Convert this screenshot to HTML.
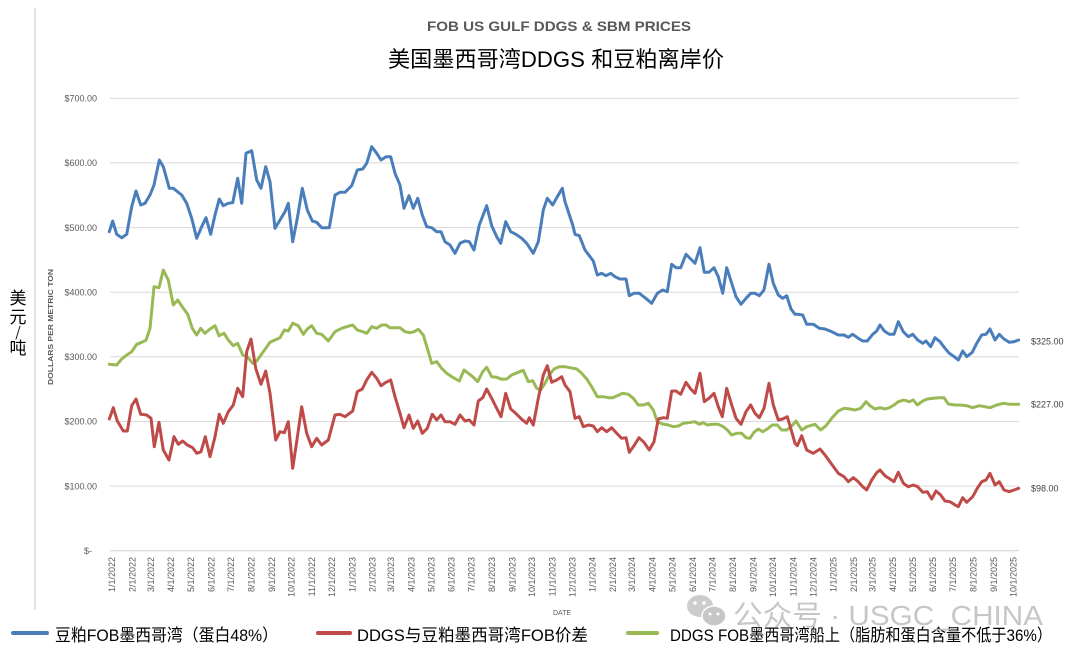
<!DOCTYPE html>
<html>
<head>
<meta charset="utf-8">
<style>
  html,body{margin:0;padding:0;background:#ffffff;}
  body{width:1080px;height:658px;overflow:hidden;}
  svg{display:block;}
  .lat{font-family:"Liberation Sans","Noto Sans CJK SC",sans-serif;}
</style>
</head>
<body>
<svg width="1080" height="658" viewBox="0 0 1080 658" xmlns="http://www.w3.org/2000/svg">
  <rect x="0" y="0" width="1080" height="658" fill="#ffffff"/>
  <!-- left border line -->
  <line x1="35" y1="8" x2="35" y2="610" stroke="#d9d9d9" stroke-width="1.5"/>

  <!-- titles -->
  <text class="lat" x="427" y="31" font-size="14" font-weight="bold" fill="#595959" textLength="264" lengthAdjust="spacingAndGlyphs">FOB US GULF DDGS &amp; SBM PRICES</text>
  <text class="lat" x="388" y="67" font-size="22" fill="#000000" textLength="336" lengthAdjust="spacingAndGlyphs">美国墨西哥湾DDGS 和豆粕离岸价</text>

  <!-- gridlines -->
  <g stroke="#d9d9d9" stroke-width="1">
    <line x1="110" y1="98.3" x2="1019" y2="98.3"/>
    <line x1="110" y1="162.9" x2="1019" y2="162.9"/>
    <line x1="110" y1="227.6" x2="1019" y2="227.6"/>
    <line x1="110" y1="292.2" x2="1019" y2="292.2"/>
    <line x1="110" y1="356.8" x2="1019" y2="356.8"/>
    <line x1="110" y1="421.5" x2="1019" y2="421.5"/>
    <line x1="110" y1="486.1" x2="1019" y2="486.1"/>
    <line x1="110" y1="550.7" x2="1019" y2="550.7" stroke="#d0d0d0"/>
  </g>

  <!-- y labels -->
  <g class="lat" font-size="9" fill="#595959" text-anchor="end">
    <text x="97" y="101.5">$700.00</text>
    <text x="97" y="166.1">$600.00</text>
    <text x="97" y="230.8">$500.00</text>
    <text x="97" y="295.4">$400.00</text>
    <text x="97" y="360">$300.00</text>
    <text x="97" y="424.7">$200.00</text>
    <text x="97" y="489.3">$100.00</text>
    <text x="92" y="553.9">$-</text>
  </g>

  <!-- y axis titles -->
  <text class="lat" transform="translate(53,327) rotate(-90)" font-size="7" font-weight="bold" fill="#595959" text-anchor="middle" textLength="116" lengthAdjust="spacingAndGlyphs">DOLLARS PER METRIC TON</text>
  <g font-family="'Noto Sans CJK SC','Liberation Sans',sans-serif" font-size="17" fill="#000" text-anchor="middle">
    <text x="18" y="304">美</text>
    <text x="18" y="323">元</text>
    <text x="18" y="337" font-size="14">/</text>
    <text x="18" y="354">吨</text>
  </g>

  <!-- x labels -->
  <g class="lat" font-size="9" fill="#595959" text-anchor="end">
    <text transform="translate(114.9,557) rotate(-90)">1/1/2022</text>
    <text transform="translate(135.3,557) rotate(-90)">2/1/2022</text>
    <text transform="translate(153.8,557) rotate(-90)">3/1/2022</text>
    <text transform="translate(174.2,557) rotate(-90)">4/1/2022</text>
    <text transform="translate(193.9,557) rotate(-90)">5/1/2022</text>
    <text transform="translate(214.4,557) rotate(-90)">6/1/2022</text>
    <text transform="translate(234.1,557) rotate(-90)">7/1/2022</text>
    <text transform="translate(254.5,557) rotate(-90)">8/1/2022</text>
    <text transform="translate(274.9,557) rotate(-90)">9/1/2022</text>
    <text transform="translate(294.7,557) rotate(-90)">10/1/2022</text>
    <text transform="translate(315.1,557) rotate(-90)">11/1/2022</text>
    <text transform="translate(334.9,557) rotate(-90)">12/1/2022</text>
    <text transform="translate(355.3,557) rotate(-90)">1/1/2023</text>
    <text transform="translate(375.7,557) rotate(-90)">2/1/2023</text>
    <text transform="translate(394.2,557) rotate(-90)">3/1/2023</text>
    <text transform="translate(414.6,557) rotate(-90)">4/1/2023</text>
    <text transform="translate(434.3,557) rotate(-90)">5/1/2023</text>
    <text transform="translate(454.7,557) rotate(-90)">6/1/2023</text>
    <text transform="translate(474.5,557) rotate(-90)">7/1/2023</text>
    <text transform="translate(494.9,557) rotate(-90)">8/1/2023</text>
    <text transform="translate(515.3,557) rotate(-90)">9/1/2023</text>
    <text transform="translate(535.1,557) rotate(-90)">10/1/2023</text>
    <text transform="translate(555.5,557) rotate(-90)">11/1/2023</text>
    <text transform="translate(575.3,557) rotate(-90)">12/1/2023</text>
    <text transform="translate(595.7,557) rotate(-90)">1/1/2024</text>
    <text transform="translate(616.1,557) rotate(-90)">2/1/2024</text>
    <text transform="translate(635.2,557) rotate(-90)">3/1/2024</text>
    <text transform="translate(655.6,557) rotate(-90)">4/1/2024</text>
    <text transform="translate(675.4,557) rotate(-90)">5/1/2024</text>
    <text transform="translate(695.8,557) rotate(-90)">6/1/2024</text>
    <text transform="translate(715.5,557) rotate(-90)">7/1/2024</text>
    <text transform="translate(736,557) rotate(-90)">8/1/2024</text>
    <text transform="translate(756.4,557) rotate(-90)">9/1/2024</text>
    <text transform="translate(776.1,557) rotate(-90)">10/1/2024</text>
    <text transform="translate(796.5,557) rotate(-90)">11/1/2024</text>
    <text transform="translate(816.3,557) rotate(-90)">12/1/2024</text>
    <text transform="translate(836.7,557) rotate(-90)">1/1/2025</text>
    <text transform="translate(857.1,557) rotate(-90)">2/1/2025</text>
    <text transform="translate(875.6,557) rotate(-90)">3/1/2025</text>
    <text transform="translate(896,557) rotate(-90)">4/1/2025</text>
    <text transform="translate(915.8,557) rotate(-90)">5/1/2025</text>
    <text transform="translate(936.2,557) rotate(-90)">6/1/2025</text>
    <text transform="translate(955.9,557) rotate(-90)">7/1/2025</text>
    <text transform="translate(976.3,557) rotate(-90)">8/1/2025</text>
    <text transform="translate(996.8,557) rotate(-90)">9/1/2025</text>
    <text transform="translate(1016.5,557) rotate(-90)">10/1/2025</text>
  </g>
  <text class="lat" x="553" y="615" font-size="7" fill="#595959">DATE</text>

  <!-- series -->
  <g fill="none" stroke-width="3" stroke-linejoin="round" stroke-linecap="round">
    <polyline stroke="#4A7EBB" points="109.3,231.7 112.7,221 116.7,234.3 121.7,237.7 126.7,234.3 131.7,206.7 136,191 140.7,205 145,203.3 150,195 154,185 159.3,160 163.3,166.7 169.3,188.3 173.3,188.3 181.7,195 186.7,203.3 191.7,218.3 196.7,238.3 201.7,226.7 206,217.7 210.7,234.3 215,215 219.3,199 223.3,205.7 228.3,203.3 232.7,202.7 237.7,178.3 241.7,203.3 246,153.3 251.7,150.7 256.7,180 261,188.3 265.7,166.7 270,181.7 275,228.3 280,220 285,211.7 288.3,203.3 292.7,241.7 297.3,218.3 302.3,188.3 307.3,210 312.3,221 316.7,222.3 321.7,227.7 329.3,227.7 335,195 340,192.3 345,192.3 351.7,185.7 357.3,170 362.7,169 366.7,163.3 371.7,146.7 376.7,153.3 381,160 386,156.7 390.7,156.7 395,173.3 400,185 404,208.3 409,195.7 413.3,208.3 417.7,198.3 422.3,215 426.7,226.7 431.7,227.7 436.7,231.7 441,231.7 445,241.7 450,245 455,253.3 460,243.3 465,241 469.3,241.7 474,250 479.3,225 486.7,205.7 491.7,225.7 496.7,236.7 500.7,243.3 505.7,221.7 510.7,231.7 516,234.3 521.7,238.3 526.7,243.3 533.3,253.3 538.3,241.7 543.3,210 547.3,198.3 552.7,205 557.3,196.7 562.3,188.3 565,201.7 572.7,225 575,234.3 579.3,235.7 585,250 589.3,255.7 593.3,261 597.3,275 601.7,273.3 606,275.7 610.7,273.3 615,276.7 620,279 626,279 629.3,295.7 634,293.3 639.3,293.3 645,297.7 651.7,303.3 657.3,293.3 662.7,290 667.3,291.7 671.7,264.3 676,267.7 680.7,267.7 686,254.3 690.7,259 695,263.3 700,247.7 704.3,272.3 709,272.3 714,267.7 718.3,276.7 722.7,293.3 726.7,267.7 731.7,283.3 736,296.7 741,304.3 746,298.3 750.7,293.3 755,293.3 759.3,295.7 764,290 769,264.3 773.3,283.3 778.3,295 782.7,298.3 786.7,295.7 791,309 795,314.3 797.3,314.3 802.7,315 806.7,324.3 813.3,324.3 819.3,328.3 825,329 831.7,331.7 838.3,335 844,335 848.3,337.3 852.7,334.3 858.3,338.3 862.7,341 867.3,341 872.7,334.3 876.7,331 880,325 884.3,331 889.3,334.3 894,334.3 898.3,321.7 903.3,331.7 908.3,336.7 912.7,334.3 917.7,340 922.7,343.3 926,341 930.7,346.7 935,337.7 940,341.7 945,348.3 949.3,353.3 954.3,356.7 958.3,360 962.7,351 966.7,356.7 972.3,352.3 976.7,343.3 981.7,335 986,334.3 990,329 995,340 999.3,334.3 1004,339 1009.3,342.3 1014,341.7 1018.7,340"/>
    <polyline stroke="#98B954" points="109.3,364.3 116.7,365 121.7,359 126.7,355 131.7,351.7 136.7,344.3 141.7,342.3 146,340.3 150,328.3 154,286.7 159,287.7 163.3,270 168.3,280 173.3,305 177.7,300 183.3,308.3 187.7,314.3 192.3,328.3 196.7,335 200.7,328.3 205,333.3 210,329 215,325.7 219,335.7 224,333.3 228.3,340 233.3,345.7 237.7,343.3 242.7,355 247.3,356.7 252.7,363.3 256.7,361 261,355 265.7,348.3 270,342.3 275,340 280,337.7 284.3,330 288.3,331 292.7,323.3 298.3,325.7 303.3,334.3 307.3,329 311.7,325.7 316.7,333.3 321.7,334.3 328.3,341 335,331.7 341.7,328.3 346.7,326.7 352.7,325 357.3,330 362.7,331.7 366.7,333.3 371.7,326.7 376.7,328.3 381.7,325 386,325 390,327.7 395,327.7 400,327.7 405,331.7 410,332.7 414,331.7 418.3,329.3 423.3,335 427.3,348.3 431.7,363.3 436.7,361.7 441.7,368.3 446.7,373.3 451.7,376.7 459.3,381 464,370 468.3,373.3 472.7,376.7 477.7,381.7 482.7,371.7 486.7,367.3 491.7,376.7 496.7,377.3 501.7,379.3 506.7,379 511.7,375 517.3,372.7 523.3,370.3 528.3,381.7 532.7,380.7 536.7,388.3 540.7,390 545,383.3 549.3,375 554,369 559.3,366.7 565,366.7 570,367.7 576.7,369 581.7,373.3 586.7,379 591.7,386.7 597.3,396.7 603.3,396.7 608.3,397.7 612.7,397.7 617.3,395.7 622.7,393.3 628.3,394.3 633.3,398.3 638.3,405 643.3,405 648.3,403.3 653.3,410 657.3,421.7 662.7,424 668.3,425 673.3,426.7 678.3,426 683.3,423.3 688.3,422.7 695,421.7 699.3,424.3 703.3,422.7 707.3,425 712.7,424.3 718.3,424.3 723.3,426.7 727.3,430 731.7,435 736.7,433.3 741.7,433.3 746,437.7 750,438.3 754,432.3 758.3,429 762.7,431.7 767.3,429 772.3,425 777.3,425 781.7,430 786.7,430 791,426.7 795,422.3 796,421 801.7,430 806.7,426.7 815,424.3 820.7,430 826,425.7 831.7,418.3 838.3,411 844,408.3 850,409 855,410 860.7,408.3 866,401.7 870,405.7 875,409 880,407.7 885,409 889.3,407.7 894,405 898.3,401.7 904,400 909.3,401.7 913.3,400 917.3,405 922.7,401 927.3,399 933.3,398.3 939.3,397.7 944,397.7 948.3,404 955,405 960.7,405 966.7,405.7 972.7,407.7 979.3,405.7 985,406.7 990,407.7 996.7,405 1003.3,403.3 1010,404.3 1018.7,404.3"/>
    <polyline stroke="#BE4B48" points="109.3,419 113.3,407.7 117.3,421 123.3,431 127.3,431 131.7,405.7 136,399 140.7,414.3 146.7,415 151,418.3 154.3,446.7 159,422.3 163.3,450 169,460 174,436.7 178.3,444.3 182.7,441 187.3,445 192.7,447.7 196.7,453.3 201,451.7 205.3,436.7 210,456.7 215,436.7 219.3,414.3 223.3,423.3 228.3,411.7 233.3,405 237.7,388.3 242.7,396.7 246.7,351.7 251,339 255.7,368.3 261,384.3 265.7,371 270,393.3 275.7,440 280,431.7 284.3,432.7 288.3,421.7 292.7,468.3 296.7,441.7 301.7,406.7 306.7,433.3 311.7,446.7 316.7,438.3 321.7,445 328.3,440 335,415 340,414.3 345,416.7 352.7,411 357.3,391.7 362.3,389 366.7,380 371.7,372.3 376.7,378.3 381,385.7 386,382.3 390.7,380 395,396.7 400,413.3 404,427.7 409,415 413.3,428.3 417.7,421 422.3,433.3 427.3,428.3 432.3,414.3 436.7,420 441,415 445,421.7 450,421.7 455,424.3 460,415 465,421 469.3,420 474,425 478.3,401 482.7,397.7 486.7,389 491.7,398.3 496.7,408.3 501,416.7 505.7,393.3 510.7,409 515.7,413.3 521.7,419.3 526.7,423.3 529.3,417.7 533.3,425 538.3,398.3 543.3,375 547.3,365.7 551.7,382.3 556.7,380 561.7,376.7 565,385 570,391.7 575,418.3 579.3,416.7 583.3,426.7 588.3,425 593.3,426 597.3,431.7 601.7,427.7 606.7,431.7 611.7,427.7 616.7,433.3 621.7,438.3 626,437.7 629.3,452.3 634,445.7 639,437.7 644,442.3 649.3,450 654,441.7 658.3,419 663.3,417.7 667.3,418.3 671.7,391 676,391 680.7,394.3 686,382.3 690.7,389 695,393.3 700,373.3 704.3,401.7 709,398.3 714,393.3 718.3,406.7 722.3,416.7 726.7,388.3 731.7,405 736,418.3 741,424.3 746,411.7 750.7,405 755,413.3 759.3,417.7 764,408.3 769,383.3 773.3,405 778.3,420 782.7,419 787.3,416.7 791.7,431.7 795,443.3 797.3,445.7 801.7,435.7 806.7,450 813.3,453.3 820,449 825,455 831.7,464.3 838.3,473.3 844,476.7 848.3,481.7 853.3,477.7 858.3,481.7 862.7,486.7 866.7,490 871.7,480 876.7,472.7 880,470 885,475.7 890,479 894,481.7 898.3,472.3 903.3,483.3 908.3,486.7 913.3,485 917.7,486.7 922.7,492.3 927.3,491.7 931.7,499 936,491 940.7,495 945,501 950,501.7 954,504.3 958.3,506.7 962.7,497.7 966.7,502.3 972.7,496.7 977.3,488.3 981.7,481.7 986,480 990,473.3 995,485 999.3,481.7 1004,490 1009.3,491.7 1014,490 1018.7,488.3"/>
  </g>

  <!-- end value labels -->
  <g class="lat" font-size="9" fill="#404040">
    <text x="1031" y="344.5">$325.00</text>
    <text x="1031" y="407.5">$227.00</text>
    <text x="1031" y="491.5">$98.00</text>
  </g>

  <!-- legend -->
  <g stroke-width="4" stroke-linecap="round">
    <line x1="13" y1="633" x2="47" y2="633" stroke="#4A7EBB"/>
    <line x1="318" y1="633" x2="350" y2="633" stroke="#BE4B48"/>
    <line x1="628" y1="633" x2="657" y2="633" stroke="#98B954"/>
  </g>
  <g class="lat" font-size="17" fill="#000000">
    <text x="55" y="641" textLength="223" lengthAdjust="spacingAndGlyphs">豆粕FOB墨西哥湾（蛋白48%）</text>
    <text x="357" y="641" textLength="231" lengthAdjust="spacingAndGlyphs">DDGS与豆粕墨西哥湾FOB价差</text>
    <text x="670" y="641" textLength="382" lengthAdjust="spacingAndGlyphs">DDGS FOB墨西哥湾船上（脂肪和蛋白含量不低于36%）</text>
  </g>

  <!-- watermark -->
  <g opacity="0.85">
    <ellipse cx="700" cy="606" rx="13" ry="11" fill="#c4c4c4"/>
    <ellipse cx="714" cy="616" rx="12" ry="10" fill="#bdbdbd" stroke="#ffffff" stroke-width="1.5"/>
    <circle cx="695" cy="603" r="1.8" fill="#ffffff"/>
    <circle cx="704" cy="603" r="1.8" fill="#ffffff"/>
    <circle cx="710" cy="614" r="1.5" fill="#ffffff"/>
    <circle cx="718" cy="614" r="1.5" fill="#ffffff"/>
    <text class="lat" x="733" y="625" font-size="28" fill="#bdbdbd" textLength="310" lengthAdjust="spacingAndGlyphs">公众号 · USGC_CHINA</text>
  </g>
</svg>
</body>
</html>
